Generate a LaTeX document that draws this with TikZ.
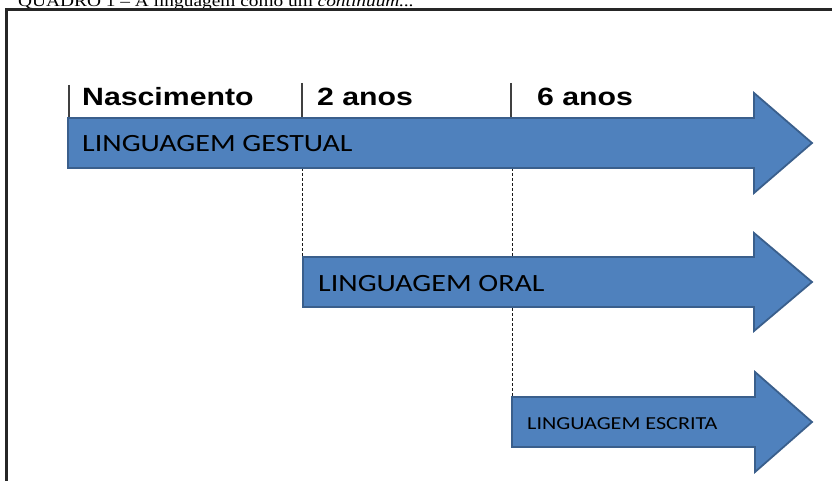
\documentclass[tikz,border=0pt]{standalone}
\usepackage{fontspec}
\setmainfont{Liberation Serif}
\newfontfamily\arialfont{Liberation Sans}
\newfontfamily\calfont{Carlito}
\definecolor{arrowfill}{HTML}{4F81BD}
\definecolor{arrowedge}{HTML}{3A5F8C}
\definecolor{tickgray}{HTML}{404040}
\newcommand\wideText[1]{\scalebox{1.21}[1]{#1}}
\begin{document}
\begin{tikzpicture}[x=1pt,y=-1pt,
  bluearrow/.style={fill=arrowfill,draw=arrowedge,line width=1.8pt,line join=miter},
  agelabel/.style={anchor=base west,inner sep=0pt,font=\arialfont\bfseries\fontsize{25}{25}\selectfont},
  langlabel/.style={anchor=base west,inner sep=0pt,text=black},
  tickline/.style={draw=tickgray,line width=1.2pt},
  guide/.style={draw=black!90,line width=1.1pt,dash pattern=on 3pt off 2pt},
  frameline/.style={draw=black!85,line width=2.2pt}]
\useasboundingbox (0,0) rectangle (832,481);
% title (cut off at the top, as in the reference)
\node[anchor=base west,inner sep=0pt,font=\fontsize{16}{16}\selectfont] (title) at (18,7)
  {\wideText{QUADRO 1 -- A linguagem como um \textit{continuum...}}};
% frame
\coordinate (frTL) at (6.5,9.5);
\coordinate (frTR) at (840,9.5);
\coordinate (frBL) at (6.5,490);
\draw[frameline] (frBL) -- (frTL) -- (frTR);
% ticks
\coordinate (t1a) at (69,85);  \coordinate (t1b) at (69,118);
\coordinate (t2a) at (302,83); \coordinate (t2b) at (302,118);
\coordinate (t3a) at (511,83); \coordinate (t3b) at (511,118);
\draw[tickline] (t1a) -- (t1b);
\draw[tickline] (t2a) -- (t2b);
\draw[tickline] (t3a) -- (t3b);
% dashed guides
\coordinate (g1a) at (302.5,168); \coordinate (g1b) at (302.5,257);
\coordinate (g2a) at (512.5,168); \coordinate (g2b) at (512.5,397);
\draw[guide] (g1a) -- (g1b);
\draw[guide] (g2a) -- (g2b);
% arrows
\draw[bluearrow] (68,118) -- (754,118) -- (754,93) -- (812,143) -- (754,193) -- (754,168) -- (68,168) -- cycle;
\draw[bluearrow] (303,257) -- (754,257) -- (754,233) -- (812,282) -- (754,331) -- (754,307) -- (303,307) -- cycle;
\draw[bluearrow] (512,397) -- (755,397) -- (755,372) -- (812,422) -- (755,472) -- (755,447) -- (512,447) -- cycle;
% age labels
\node[agelabel] (nasc) at (82,106) {\wideText{Nascimento}};
\node[agelabel] (dois) at (317,106) {\wideText{2 anos}};
\node[agelabel] (seis) at (537,106) {\wideText{6 anos}};
% language labels
\node[langlabel,font=\calfont\fontsize{24.8}{24.8}\selectfont] (gestual) at (82,152) {\wideText{LINGUAGEM GESTUAL}};
\node[langlabel,font=\calfont\fontsize{24.8}{24.8}\selectfont] (oral) at (318,291) {\wideText{LINGUAGEM ORAL}};
\node[langlabel,font=\calfont\fontsize{18.3}{18.3}\selectfont] (escrita) at (527,429) {\wideText{LINGUAGEM ESCRITA}};
\end{tikzpicture}
\end{document}
